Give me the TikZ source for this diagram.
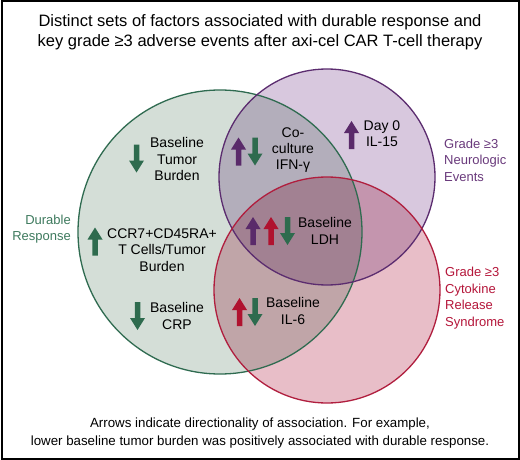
\documentclass[tikz,border=0pt]{standalone}
\usepackage{fontspec}
\setmainfont{Liberation Sans}
\definecolor{gfill}{HTML}{D4DED7}
\definecolor{pfill}{HTML}{D8C8DE}
\definecolor{rfill}{HTML}{E8BEC8}
\definecolor{gline}{HTML}{2F6B50}
\definecolor{pline}{HTML}{5B2C6F}
\definecolor{rline}{HTML}{B01E3E}
\definecolor{gtext}{HTML}{3E7A5E}
\definecolor{ptext}{HTML}{6A3A7C}
\definecolor{rtext}{HTML}{B5163A}
\definecolor{garr}{HTML}{2E6B4E}
\definecolor{parr}{HTML}{5A2A6A}
\definecolor{rarr}{HTML}{B0122F}
\tikzset{
  upar/.pic={\fill (0,-14) -- (7.5,-2) -- (2.75,-2) -- (2.75,14) -- (-2.75,14) -- (-2.75,-2) -- (-7.5,-2) -- cycle;},
  downar/.pic={\fill (0,14) -- (7.5,2) -- (2.75,2) -- (2.75,-14) -- (-2.75,-14) -- (-2.75,2) -- (-7.5,2) -- cycle;},
  lab/.style={align=center, inner sep=0pt, text=black, font=\fontsize{14}{16.3}\selectfont},
  side/.style={align=left, inner sep=0pt, font=\fontsize{13}{16.5}\selectfont},
  circ/.style={line width=1.3pt}
}
\begin{document}
\begin{tikzpicture}[x=1pt,y=-1pt]
\useasboundingbox (0,0) rectangle (520,460);
\fill[white] (0,0) rectangle (520,460);
% circles
\coordinate (cg) at (220,232);
\coordinate (cp) at (327,177);
\coordinate (cr) at (327,290);
\begin{scope}[blend mode=multiply]
  \fill[gfill] (cg) circle[radius=142];
  \fill[pfill] (cp) circle[radius=108];
  \fill[rfill] (cr) circle[radius=113];
\end{scope}
\draw[circ, gline] (cg) circle[radius=142];
\draw[circ, pline] (cp) circle[radius=108];
\draw[circ, rline] (cr) circle[radius=113];
% frame
\draw[line width=2pt] (1.5,1.5) rectangle (518.5,458.5);
% title
\node[align=center, font=\fontsize{16.5}{20}\selectfont] (title) at (260,32)
  {Distinct sets of factors associated with durable response and\\key grade ≥3 adverse events after axi-cel CAR T-cell therapy};
% labels
\node[lab] (tb) at (177,159) {Baseline\\Tumor\\Burden};
\node[lab] (ccr) at (162,250) {CCR7+CD45RA+\\T Cells/Tumor\\Burden};
\node[lab] (crp) at (177,316) {Baseline\\CRP};
\node[lab] (ifn) at (293,150) {Co-\\culture\\IFN-γ};
\node[lab] (il15) at (382,134) {Day 0\\IL-15};
\node[lab] (ldh) at (325,231) {Baseline\\LDH};
\node[lab] (il6) at (293,311) {Baseline\\IL-6};
\node[side, anchor=west, text=ptext] (neu) at (444,160) {Grade ≥3\\Neurologic\\Events};
\node[side, anchor=west, text=rtext] (crs) at (445,298) {Grade ≥3\\Cytokine\\Release\\Syndrome};
\node[side, align=right, anchor=east, text=gtext] (dr) at (71,229) {Durable\\Response};
% arrows
\pic[color=garr] at (136.5,158.5) {downar};
\pic[color=garr] at (95,241.5) {upar};
\pic[color=garr] at (137.5,316) {downar};
\pic[color=parr] at (238.5,151.5) {upar};
\pic[color=garr] at (255,151.5) {downar};
\pic[color=parr] at (351.5,135) {upar};
\pic[color=parr] at (253,231) {upar};
\pic[color=rarr] at (271,231) {upar};
\pic[color=garr] at (287.5,231) {downar};
\pic[color=rarr] at (239.5,312) {upar};
\pic[color=garr] at (255,312) {downar};
% footer
\node[align=center, font=\fontsize{13.3}{18}\selectfont] (foot) at (260,433)
  {Arrows indicate directionality of association. For example,\\lower baseline tumor burden was positively associated with durable response.};
\end{tikzpicture}
\end{document}
